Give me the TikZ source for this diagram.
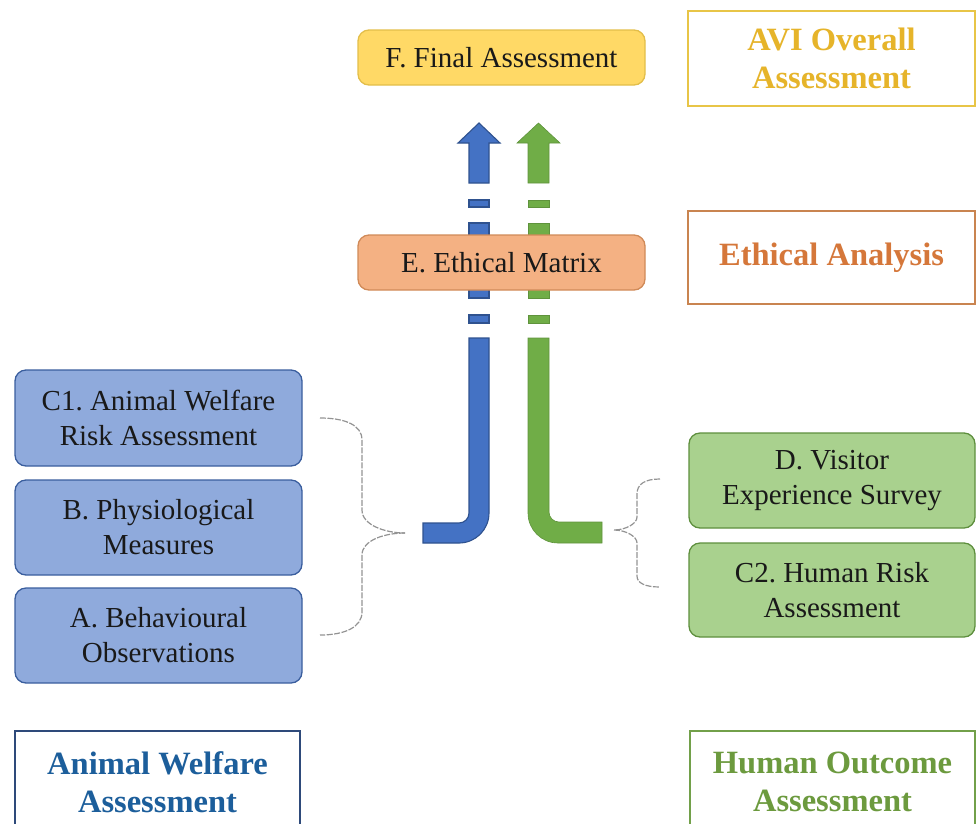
\documentclass[tikz,border=0pt]{standalone}
\usepackage{fontspec}
\setmainfont{Liberation Serif}
\frenchspacing
\definecolor{fyel}{HTML}{FFD966}
\definecolor{fyelD}{HTML}{E3BE4A}
\definecolor{forg}{HTML}{F4B183}
\definecolor{forgD}{HTML}{D08A58}
\definecolor{fblu}{HTML}{8FAADC}
\definecolor{fbluD}{HTML}{3A5E9E}
\definecolor{fgrn}{HTML}{A9D18E}
\definecolor{fgrnD}{HTML}{5E8F3E}
\definecolor{ablu}{HTML}{4472C4}
\definecolor{abluD}{HTML}{2F528F}
\definecolor{agrn}{HTML}{70AD47}
\definecolor{tgold}{HTML}{E6B42A}
\definecolor{bgold}{HTML}{E8C547}
\definecolor{torg}{HTML}{D5773A}
\definecolor{borg}{HTML}{C98450}
\definecolor{tblu}{HTML}{1C5E9B}
\definecolor{bblu}{HTML}{2E4A7A}
\definecolor{tgrn}{HTML}{6C9A3E}
\definecolor{bgrn}{HTML}{72A04A}
\begin{document}
\begin{tikzpicture}[x=1pt,y=-1pt,
  box/.style={rounded corners=11pt, line width=1.3pt, inner sep=0pt, align=center,
    minimum width=287pt, font=\fontsize{29}{35}\selectfont, text=black!90},
  yelbox/.style={box, fill=fyel, draw=fyelD, minimum height=55pt},
  orgbox/.style={box, fill=forg, draw=forgD, minimum height=55pt},
  blubox/.style={box, fill=fblu, draw=fbluD, minimum height=95pt},
  grnbox/.style={box, fill=fgrn, draw=fgrnD, minimum width=286pt, minimum height=95pt},
  labelbox/.style={line width=1.8pt, inner sep=0pt, align=center, fill=white,
    minimum width=287pt, font=\bfseries\fontsize{32.5}{38}\selectfont},
  bluarrow/.style={fill=ablu, draw=abluD, line width=1.1pt},
  grnarrow/.style={fill=agrn, draw=agrn!85!black, line width=0.6pt},
  brace/.style={draw=gray!85, line width=1.2pt, dash pattern=on 6pt off 1.5pt}
]
\useasboundingbox (0,0) rectangle (977,823);
\clip (0,0) rectangle (977,823);

% ---- blue arrow pieces ----
\filldraw[bluarrow] (469,183) -- (469,143) -- (458,143) -- (479,123) -- (500,143) -- (489,143) -- (489,183) -- cycle;
\filldraw[bluarrow] (469,200) rectangle (489,207);
\filldraw[bluarrow] (469,223) rectangle (489,298);
\filldraw[bluarrow] (469,315) rectangle (489,323);
\filldraw[bluarrow] (469,338) -- (489,338) -- (489,513)
   .. controls (489,529.6) and (475.6,543) .. (459,543)
   -- (423,543) -- (423,523) -- (459,523)
   .. controls (464.5,523) and (469,518.5) .. (469,513) -- cycle;

% ---- green arrow pieces ----
\filldraw[grnarrow] (528,183) -- (528,143) -- (517,143) -- (538.5,123) -- (560,143) -- (549,143) -- (549,183) -- cycle;
\filldraw[grnarrow] (528,200) rectangle (549,207);
\filldraw[grnarrow] (528,223) rectangle (549,298);
\filldraw[grnarrow] (528,315) rectangle (549,323);
\filldraw[grnarrow] (528,338) -- (549,338) -- (549,512)
   .. controls (549,517.5) and (553.5,522) .. (559,522)
   -- (602,522) -- (602,543) -- (558,543)
   .. controls (541.4,543) and (528,529.6) .. (528,513) -- cycle;

% ---- process boxes ----
\node[yelbox] (F) at (501.5,57.5) {F. Final Assessment};
\node[orgbox] (E) at (501.5,262.5) {E. Ethical Matrix};
\node[blubox, minimum height=96pt] (C1) at (158.5,418) {C1. Animal Welfare\\Risk Assessment};
\node[blubox] (B) at (158.5,527.5) {B. Physiological\\Measures};
\node[blubox] (A) at (158.5,635.5) {A. Behavioural\\Observations};
\node[grnbox] (D) at (832,480.5) {D. Visitor\\Experience Survey};
\node[grnbox, minimum height=94pt] (C2) at (832,590) {C2. Human Risk\\Assessment};

% ---- section labels ----
\node[labelbox, draw=bgold, text=tgold, minimum height=95pt] (avi) at (831.5,58.5) {AVI Overall\\Assessment};
\node[labelbox, draw=borg, text=torg, minimum height=93pt] (eth) at (831.5,257.5) {Ethical Analysis};
\node[labelbox, draw=bblu, text=tblu, minimum width=285pt, minimum height=102pt] (awa) at (157.5,782) {Animal Welfare\\Assessment};
\node[labelbox, draw=bgrn, text=tgrn, minimum width=285pt, minimum height=102pt] (hoa) at (832.5,782) {Human Outcome\\Assessment};

% ---- braces ----
\coordinate (ltip) at (405,533);
\coordinate (rtip) at (614,530);
\draw[brace] (320,418) .. controls (345,418) and (362,425) .. (362,440) -- (362,510)
   .. controls (362,525) and (385,533) .. (ltip);
\draw[brace] (ltip) .. controls (385,533) and (362,540) .. (362,555) -- (362,612)
   .. controls (362,627) and (345,635) .. (320,635);
\draw[brace] (660,479) .. controls (645,479) and (637,484) .. (637,494) -- (637,517)
   .. controls (637,524) and (625,530) .. (rtip);
\draw[brace] (rtip) .. controls (625,530) and (637,536) .. (637,543) -- (637,576)
   .. controls (637,583) and (645,587) .. (660,587);
\end{tikzpicture}
\end{document}
